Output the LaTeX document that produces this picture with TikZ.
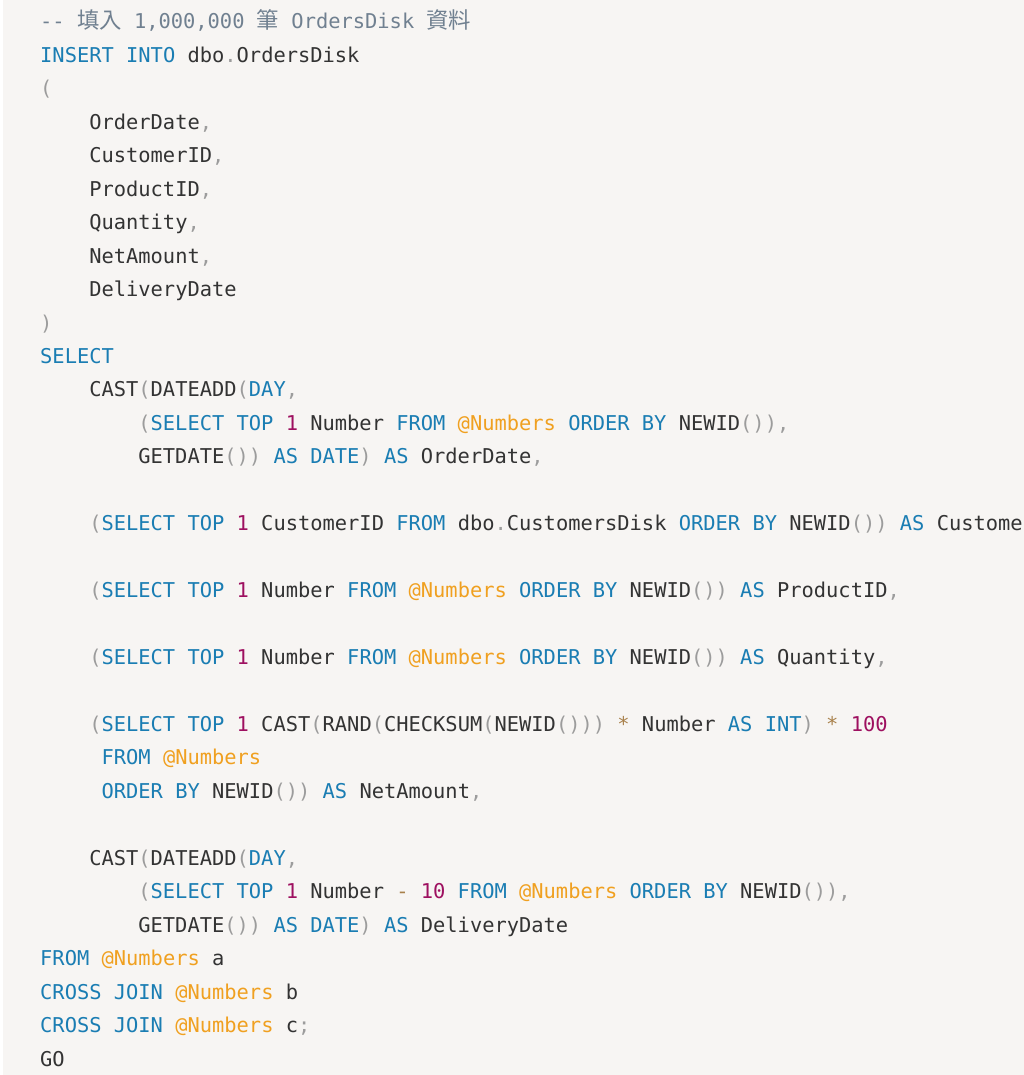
\documentclass[tikz,border=0pt]{standalone}
\usepackage{fontspec}
\setmonofont{DejaVu Sans Mono}
\newfontfamily\cjk{Noto Sans CJK TC}
\definecolor{bg}{HTML}{F7F5F3}
\definecolor{txt}{HTML}{333333}
\definecolor{kwc}{HTML}{1A7DB3}
\definecolor{numc}{HTML}{9E1060}
\definecolor{varc}{HTML}{F0A020}
\definecolor{opc}{HTML}{A8804A}
\definecolor{pnc}{HTML}{9C9C9C}
\definecolor{cmc}{HTML}{708090}
\newcommand\kw[1]{\textcolor{kwc}{#1}}
\newcommand\num[1]{\textcolor{numc}{#1}}
\newcommand\var[1]{\textcolor{varc}{#1}}
\newcommand\op[1]{\textcolor{opc}{#1}}
\newcommand\pn[1]{\textcolor{pnc}{#1}}
\newcommand\zh[1]{{\cjk\fontsize{22.35}{24}\selectfont #1}}
\begin{document}
\begin{tikzpicture}[x=1pt,y=-1pt,
    code/.style={anchor=base west,inner sep=0pt,text=txt,
        font=\ttfamily\fontsize{20.4}{24}\selectfont}]
    % the page
    \useasboundingbox (0,0) rectangle (1024,1075);
    \clip (0,0) rectangle (1024,1075);
    \fill[white] (0,0) rectangle (1024,1075);
    \fill[bg] (3,0) rectangle (1024,1075);

    % the insert part
    \node[code,text=cmc] (comment) at (40,28.8)
    {-{}- \zh{填入} 1,000,000 \zh{筆} OrdersDisk \zh{資料}};
    \node[code] (insert) at (40,62.3) {\kw{INSERT} \kw{INTO} dbo\pn{.}OrdersDisk};
    \node[code] (open) at (40,95.8) {\pn{(}};
    \node[code] (orderdate) at (89.1,129.2) {OrderDate\pn{,}};
    \node[code] (customerid) at (89.1,162.7) {CustomerID\pn{,}};
    \node[code] (productid) at (89.1,196.1) {ProductID\pn{,}};
    \node[code] (quantity) at (89.1,229.6) {Quantity\pn{,}};
    \node[code] (netamount) at (89.1,263.0) {NetAmount\pn{,}};
    \node[code] (deliverydate) at (89.1,296.5) {DeliveryDate};
    \node[code] (close) at (40,330.0) {\pn{)}};

    % the select part
    \node[code] (select) at (40,363.4) {\kw{SELECT}};
    \node[code] (castorder) at (89.1,396.9)
    {CAST\pn{(}DATEADD\pn{(}\kw{DAY}\pn{,}};
    \node[code] (toporder) at (138.2,430.4)
    {\pn{(}\kw{SELECT} \kw{TOP} \num{1} Number \kw{FROM} \var{@Numbers}
     \kw{ORDER} \kw{BY} NEWID\pn{()),}};
    \node[code] (getorder) at (138.2,463.8)
    {GETDATE\pn{())} \kw{AS} \kw{DATE}\pn{)} \kw{AS} OrderDate\pn{,}};
    \node[code] (topcustomer) at (89.1,530.7)
    {\pn{(}\kw{SELECT} \kw{TOP} \num{1} CustomerID \kw{FROM}
     dbo\pn{.}CustomersDisk \kw{ORDER} \kw{BY} NEWID\pn{())} \kw{AS}
     CustomerID\pn{,}};
    \node[code] (topproduct) at (89.1,597.6)
    {\pn{(}\kw{SELECT} \kw{TOP} \num{1} Number \kw{FROM} \var{@Numbers}
     \kw{ORDER} \kw{BY} NEWID\pn{())} \kw{AS} ProductID\pn{,}};
    \node[code] (topquantity) at (89.1,664.6)
    {\pn{(}\kw{SELECT} \kw{TOP} \num{1} Number \kw{FROM} \var{@Numbers}
     \kw{ORDER} \kw{BY} NEWID\pn{())} \kw{AS} Quantity\pn{,}};
    \node[code] (topamount) at (89.1,731.5)
    {\pn{(}\kw{SELECT} \kw{TOP} \num{1} CAST\pn{(}RAND\pn{(}CHECKSUM\pn{(}NEWID\pn{()))}
     \op{*} Number \kw{AS} \kw{INT}\pn{)} \op{*} \num{100}};
    \node[code] (fromamount) at (101.4,764.9) {\kw{FROM} \var{@Numbers}};
    \node[code] (orderamount) at (101.4,798.4)
    {\kw{ORDER} \kw{BY} NEWID\pn{())} \kw{AS} NetAmount\pn{,}};
    \node[code] (castdelivery) at (89.1,865.3)
    {CAST\pn{(}DATEADD\pn{(}\kw{DAY}\pn{,}};
    \node[code] (topdelivery) at (138.2,898.8)
    {\pn{(}\kw{SELECT} \kw{TOP} \num{1} Number \op{-} \num{10} \kw{FROM}
     \var{@Numbers} \kw{ORDER} \kw{BY} NEWID\pn{()),}};
    \node[code] (getdelivery) at (138.2,932.2)
    {GETDATE\pn{())} \kw{AS} \kw{DATE}\pn{)} \kw{AS} DeliveryDate};

    % the from part
    \node[code] (froma) at (40,965.7) {\kw{FROM} \var{@Numbers} a};
    \node[code] (joinb) at (40,999.1) {\kw{CROSS} \kw{JOIN} \var{@Numbers} b};
    \node[code] (joinc) at (40,1032.6) {\kw{CROSS} \kw{JOIN} \var{@Numbers} c\pn{;}};
    \node[code] (go) at (40,1066.0) {GO};
\end{tikzpicture}
\end{document}
